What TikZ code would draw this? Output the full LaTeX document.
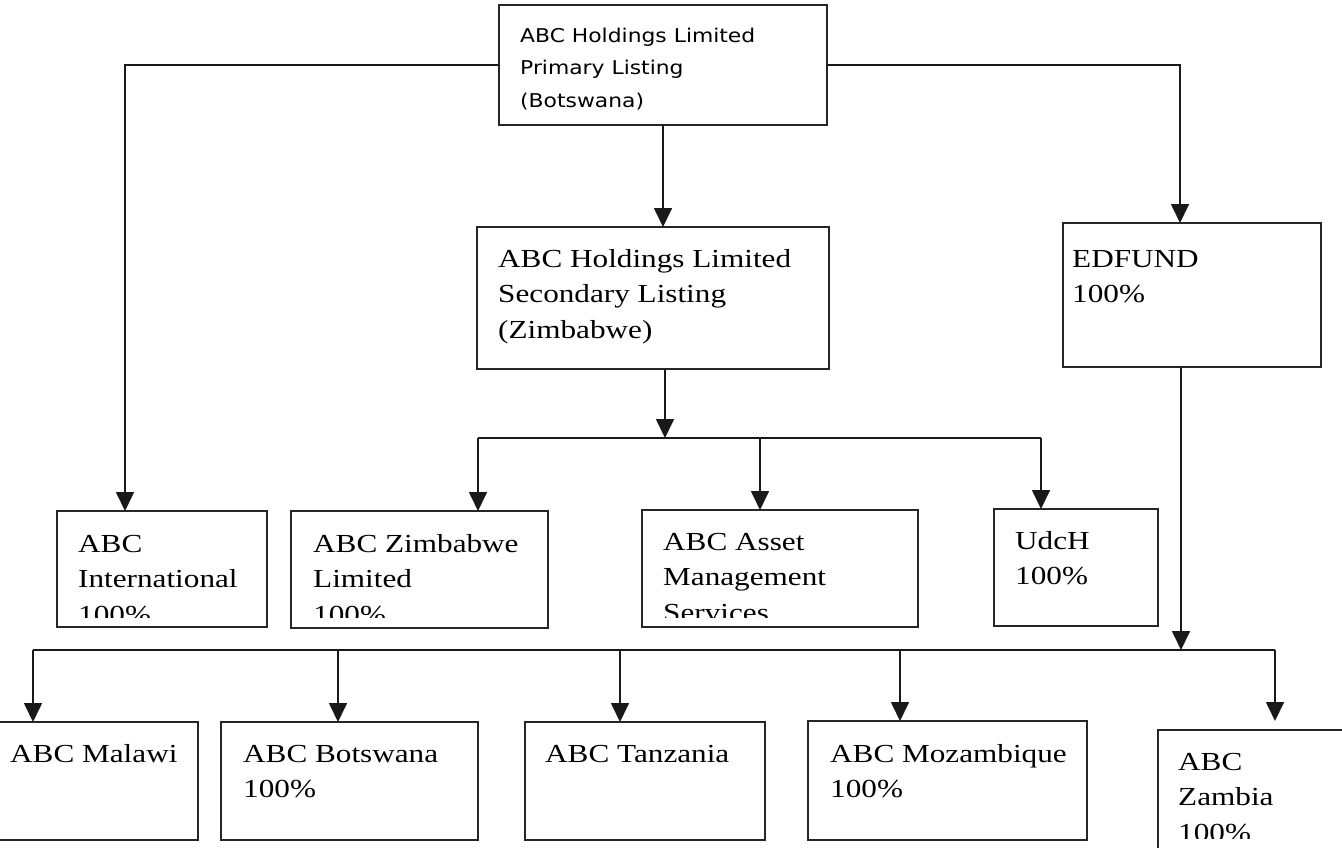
\documentclass[tikz,border=0pt]{standalone}
\usepackage{fontspec}
\newfontfamily\tnr[FakeStretch=1.2]{Liberation Serif}
\newfontfamily\lsans[FakeStretch=1.15]{DejaVu Sans}
\usetikzlibrary{arrows.meta}
\begin{document}
\begin{tikzpicture}[x=1pt,y=-1pt,
  box/.style={draw=black!85, line width=1.4pt, anchor=north west, inner sep=0pt, outer sep=0pt},
  txt/.style={anchor=base west, align=left, inner sep=0pt, font=\tnr\fontsize{26pt}{35.5pt}\selectfont},
  stxt/.style={anchor=base west, align=left, inner sep=0pt, font=\lsans\fontsize{19pt}{32.5pt}\selectfont},
  conn/.style={line width=1.7pt, draw=black!90},
  arr/.style={conn, -{Triangle[width=18pt,length=19pt]}}]
\useasboundingbox (0,0) rectangle (1342,847);

% boxes
\node[box, minimum width=328pt, minimum height=120pt] (top) at (499,5) {};
\node[box, minimum width=352pt, minimum height=142pt] (sec) at (477,227) {};
\node[box, minimum width=258pt, minimum height=144pt] (edf) at (1063,223) {};
\node[box, minimum width=210pt, minimum height=116pt] (intl) at (57,511) {};
\node[box, minimum width=257pt, minimum height=117pt] (zim) at (291,511) {};
\node[box, minimum width=276pt, minimum height=117pt] (asset) at (642,510) {};
\node[box, minimum width=164pt, minimum height=117pt] (udch) at (994,509) {};
\node[box, minimum width=202pt, minimum height=118pt] (malawi) at (-4,722) {};
\node[box, minimum width=257pt, minimum height=118pt] (bots) at (221,722) {};
\node[box, minimum width=240pt, minimum height=118pt] (tanz) at (525,722) {};
\node[box, minimum width=279pt, minimum height=119pt] (moz) at (808,721) {};
\node[box, minimum width=200pt, minimum height=130pt] (zamb) at (1158,730) {};

% texts (anchor = baseline of the last line)
\node[stxt] (top-t) at (520,107) {ABC Holdings Limited\\Primary Listing\\(Botswana)};
\node[txt] (sec-t) at (498,338) {ABC Holdings Limited\\Secondary Listing\\(Zimbabwe)};
\node[txt] (edf-t) at (1072,302.5) {EDFUND\\100\%};
\begin{scope}
  \clip (57,511) rectangle (267,617);
  \node[txt] (intl-t) at (78,623) {ABC\\International\\100\%};
\end{scope}
\begin{scope}
  \clip (291,511) rectangle (548,617);
  \node[txt] (zim-t) at (313,623) {ABC Zimbabwe\\Limited\\100\%};
\end{scope}
\begin{scope}
  \clip (642,510) rectangle (918,617);
  \node[txt] (asset-t) at (663,621) {ABC Asset\\Management\\Services};
\end{scope}
\node[txt] (udch-t) at (1015,584.5) {UdcH\\100\%};
\node[txt] (malawi-t) at (10,762) {ABC Malawi};
\node[txt] (bots-t) at (243,797.5) {ABC Botswana\\100\%};
\node[txt] (tanz-t) at (545,762) {ABC Tanzania};
\node[txt] (moz-t) at (830,797.5) {ABC Mozambique\\100\%};
\begin{scope}
  \clip (1158,730) rectangle (1342,838);
  \node[txt] (zamb-t) at (1178,841) {ABC\\Zambia\\100\%};
\end{scope}

% junction coordinates
\coordinate (intlin) at (125,511);
\coordinate (edfin) at (1180,223);
\coordinate (b1m) at (665,438);
\coordinate (b1l) at (478,438);
\coordinate (b1a) at (760,438);
\coordinate (b1r) at (1041,438);
\coordinate (b2m) at (1181,650);
\coordinate (b2l) at (33,650);
\coordinate (b2b) at (338,650);
\coordinate (b2t) at (620,650);
\coordinate (b2z) at (900,650);
\coordinate (b2r) at (1275,650);

% connectors
\draw[arr] (top.west) -| (intlin);
\draw[arr] (top.east) -| (edfin);
\draw[arr] (top.south) -- (top.south |- sec.north);
\draw[arr] (b1m |- sec.south) -- (b1m);
\draw[conn] (b1l) -- (b1r);
\draw[arr] (b1l) -- (b1l |- zim.north);
\draw[arr] (b1a) -- (b1a |- asset.north);
\draw[arr] (b1r) -- (b1r |- udch.north);
\draw[arr] (b2m |- edf.south) -- (b2m);
\draw[conn] (b2l) -- (b2r);
\draw[arr] (b2l) -- (b2l |- malawi.north);
\draw[arr] (b2b) -- (b2b |- bots.north);
\draw[arr] (b2t) -- (b2t |- tanz.north);
\draw[arr] (b2z) -- (b2z |- moz.north);
\draw[arr] (b2r) -- (b2r |- moz.north);
\end{tikzpicture}
\end{document}
